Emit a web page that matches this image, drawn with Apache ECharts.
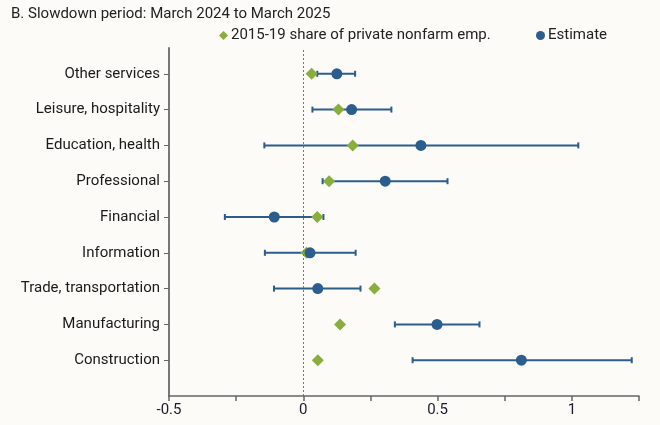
<!DOCTYPE html>
<html>
<head>
<meta charset="utf-8">
<script src="https://cdn.jsdelivr.net/npm/echarts@6/dist/echarts.min.js"></script>
<style>
html,body{margin:0;padding:0;background:#fcfbf7;}
#chart{width:660px;height:425px;}
</style>
</head>
<body>
<div id="chart"></div>
<script>
// Categories listed bottom to top
const categories = ['Construction','Manufacturing','Trade, transportation','Information','Financial','Professional','Education, health','Leisure, hospitality','Other services'];
const shareValues = [0.054, 0.137, 0.265, 0.012, 0.052, 0.096, 0.184, 0.131, 0.031];
const estimateValues = [0.812, 0.498, 0.054, 0.025, -0.108, 0.305, 0.438, 0.180, 0.125];
const lowerValues = [0.407, 0.341, -0.109, -0.143, -0.292, 0.072, -0.145, 0.034, 0.052];
const upperValues = [1.223, 0.656, 0.213, 0.195, 0.075, 0.537, 1.024, 0.328, 0.193];
const xTickLabels = ['-0.5','0','0.5','1'];

const BLUE = '#2b5d8e';
const GREEN = '#8aae3c';
const FONT = 'Roboto';
const positions = categories.map((c, i) => i + 1);

const chart = echarts.init(document.getElementById('chart'));
chart.setOption({
  backgroundColor: '#fcfbf7',
  animation: false,
  textStyle: {fontFamily: FONT},
  title: {
    text: 'B. Slowdown period: March 2024 to March 2025',
    left: 6, top: 2,
    textStyle: {fontSize: 15, fontWeight: 'normal', color: '#222', fontFamily: FONT}
  },
  legend: [
    {
      data: [{name: '2015-19 share of private nonfarm emp.', icon: 'diamond'}],
      left: 214, top: 23, itemWidth: 9, itemHeight: 9, itemGap: 4,
      textStyle: {fontSize: 15, color: '#222', fontFamily: FONT, padding: [0,0,0,-2]}
    },
    {
      data: [{name: 'Estimate', icon: 'circle'}],
      left: 531, top: 23, itemWidth: 9, itemHeight: 9,
      textStyle: {fontSize: 15, color: '#222', fontFamily: FONT, padding: [0,0,0,-2]}
    }
  ],
  grid: {left: 169, right: 21, top: 48, bottom: 29, containLabel: false},
  xAxis: {
    type: 'value', min: -0.5, max: 1.25, interval: 0.25,
    splitLine: {show: false},
    axisLine: {show: true, onZero: false, lineStyle: {color: '#666', width: 1.5}},
    axisTick: {show: true, length: 5, lineStyle: {color: '#666', width: 1.5}},
    axisLabel: {
      fontSize: 15, color: '#1a1a2e', margin: 7, fontFamily: FONT,
      formatter: v => {
        const s = xTickLabels.find(t => Math.abs(parseFloat(t) - v) < 1e-9);
        return s === undefined ? '' : s;
      }
    }
  },
  yAxis: {
    type: 'value', min: 0, max: 9.72,
    splitLine: {show: false},
    axisLine: {show: true, onZero: false, lineStyle: {color: '#777', width: 2}},
    axisTick: {show: true, length: 5, customValues: positions, lineStyle: {color: '#666', width: 1}},
    axisLabel: {
      fontSize: 15, color: '#1a1a1a', margin: 9, fontFamily: FONT,
      customValues: positions,
      formatter: v => categories[Math.round(v) - 1] || ''
    }
  },
  series: [
    {
      type: 'custom',
      name: 'errorbars',
      silent: true,
      data: categories.map((c, i) => [lowerValues[i], upperValues[i], i + 1]),
      renderItem: (params, api) => {
        const lo = api.coord([api.value(0), api.value(2)]);
        const hi = api.coord([api.value(1), api.value(2)]);
        const h = 3;
        const style = {stroke: BLUE, lineWidth: 2};
        return {
          type: 'group',
          children: [
            {type: 'line', shape: {x1: lo[0], y1: lo[1], x2: hi[0], y2: hi[1]}, style},
            {type: 'line', shape: {x1: lo[0], y1: lo[1] - h, x2: lo[0], y2: lo[1] + h}, style},
            {type: 'line', shape: {x1: hi[0], y1: hi[1] - h, x2: hi[0], y2: hi[1] + h}, style}
          ]
        };
      },
      markLine: {
        silent: true, symbol: 'none', label: {show: false},
        lineStyle: {color: '#777', type: [2, 2], width: 1},
        data: [{xAxis: 0}]
      },
      z: 2
    },
    {
      type: 'scatter',
      name: '2015-19 share of private nonfarm emp.',
      symbol: 'diamond', symbolSize: 12,
      itemStyle: {color: GREEN, opacity: 1},
      data: shareValues.map((v, i) => [v, i + 1]),
      z: 3
    },
    {
      type: 'scatter',
      name: 'Estimate',
      symbol: 'circle', symbolSize: 11,
      itemStyle: {color: BLUE, opacity: 1},
      data: estimateValues.map((v, i) => [v, i + 1]),
      z: 4
    }
  ]
});
</script>
</body>
</html>
